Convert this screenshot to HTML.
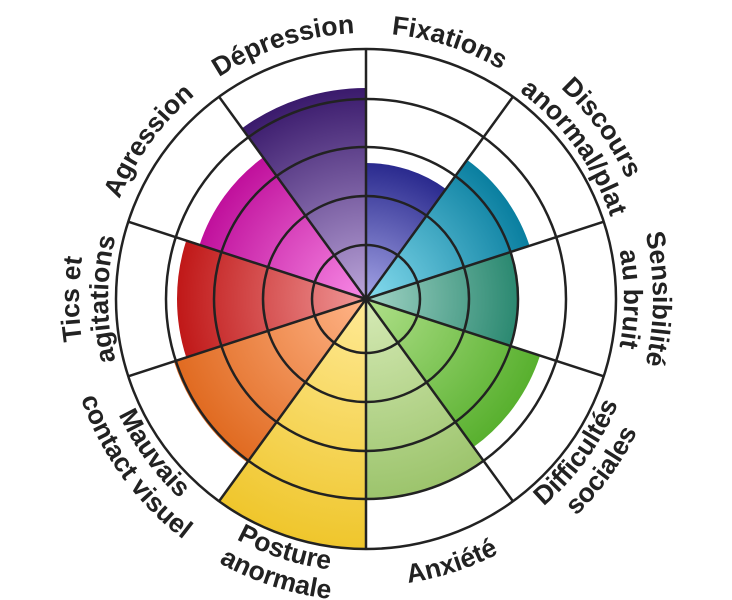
<!DOCTYPE html>
<html><head><meta charset="utf-8"><style>
html,body{margin:0;padding:0;background:#fff;}
svg{display:block;}
text{font-family:"Liberation Sans",sans-serif;font-weight:bold;font-size:26.5px;fill:#222;}
</style></head><body>
<svg width="732" height="600" viewBox="0 0 732 600" xmlns="http://www.w3.org/2000/svg">
<defs id="d"></defs>
<g id="sectors"></g>
<g id="lines" stroke="#222" stroke-width="2.5" fill="none"></g>
<g id="labels"></g>
</svg>
<script>
const NS="http://www.w3.org/2000/svg";
const cx=366,cy=299,R=250;
const rad=a=>a*Math.PI/180;
const P=(r,a)=>[cx+r*Math.cos(rad(a)),cy+r*Math.sin(rad(a))];
const sec=[
 [136,"#a4a4e6","#2a2a8e"],
 [172,"#86dcee","#0a7fa0"],
 [153,"#a2d4c6","#2a8870"],
 [183,"#b0e08a","#58b02e"],
 [201,"#d6eab6","#9cc46c"],
 [250,"#ffea96","#efc62c"],
 [202,"#ffb488","#e06a20"],
 [189,"#f09898","#c01818"],
 [175,"#f88ae6","#c0109c"],
 [211,"#bca6da","#3a1a6c"]
];
const defs=document.getElementById("d"),sg=document.getElementById("sectors");
sec.forEach((s,i)=>{
 const a0=-90+36*i,a1=a0+36,r=s[0];
 const g=document.createElementNS(NS,"radialGradient");
 g.setAttribute("id","g"+i);g.setAttribute("gradientUnits","userSpaceOnUse");
 g.setAttribute("cx",cx);g.setAttribute("cy",cy);g.setAttribute("r",r);
 g.innerHTML=`<stop offset="0" stop-color="${s[1]}"/><stop offset="1" stop-color="${s[2]}"/>`;
 defs.appendChild(g);
 const p0=P(r,a0),p1=P(r,a1);
 const p=document.createElementNS(NS,"path");
 p.setAttribute("d",`M${cx},${cy}L${p0[0]},${p0[1]}A${r},${r} 0 0 1 ${p1[0]},${p1[1]}Z`);
 p.setAttribute("fill",`url(#g${i})`);
 sg.appendChild(p);
});
const lg=document.getElementById("lines");
[54,103,152,200,250].forEach(r=>{
 const c=document.createElementNS(NS,"circle");
 c.setAttribute("cx",cx);c.setAttribute("cy",cy);c.setAttribute("r",r);lg.appendChild(c);
});
for(let i=0;i<10;i++){
 const p=P(R,-90+36*i);
 const l=document.createElementNS(NS,"line");
 l.setAttribute("x1",cx);l.setAttribute("y1",cy);l.setAttribute("x2",p[0]);l.setAttribute("y2",p[1]);
 lg.appendChild(l);
}
const labs=[
 [-72,true,["Fixations"]],
 [-36,true,["Discours","anormal/plat"]],
 [0,true,["Sensibilité","au bruit"]],
 [36,false,["Difficultés","sociales"]],
 [72,false,["Anxiété"]],
 [108,false,["Posture","anormale"]],
 [144,false,["Mauvais","contact visuel"]],
 [180,true,["Tics et","agitations"]],
 [216,true,["Agression"]],
 [252,true,["Dépression"]]
];
const lab=document.getElementById("labels");let k=0;
labs.forEach(([a,top,ls])=>{
 let radii;
 if(top) radii = ls.length==1?[266]:[287,258];
 else radii = ls.length==1?[287]:[273,302];
 ls.forEach((t,j)=>{
  const r=radii[j];const id="tp"+(k++);
  const path=document.createElementNS(NS,"path");
  let d;
  if(top){const p0=P(r,a-70),p1=P(r,a+70);d=`M${p0[0]},${p0[1]}A${r},${r} 0 0 1 ${p1[0]},${p1[1]}`;}
  else{const p0=P(r,a+70),p1=P(r,a-70);d=`M${p0[0]},${p0[1]}A${r},${r} 0 0 0 ${p1[0]},${p1[1]}`;}
  path.setAttribute("id",id);path.setAttribute("d",d);path.setAttribute("fill","none");
  defs.appendChild(path);
  const tx=document.createElementNS(NS,"text");
  tx.setAttribute("text-anchor","middle");
  const tp=document.createElementNS(NS,"textPath");
  tp.setAttribute("href","#"+id);tp.setAttribute("startOffset","50%");
  tp.textContent=t;tx.appendChild(tp);lab.appendChild(tx);
 });
});
</script>
</body></html>
